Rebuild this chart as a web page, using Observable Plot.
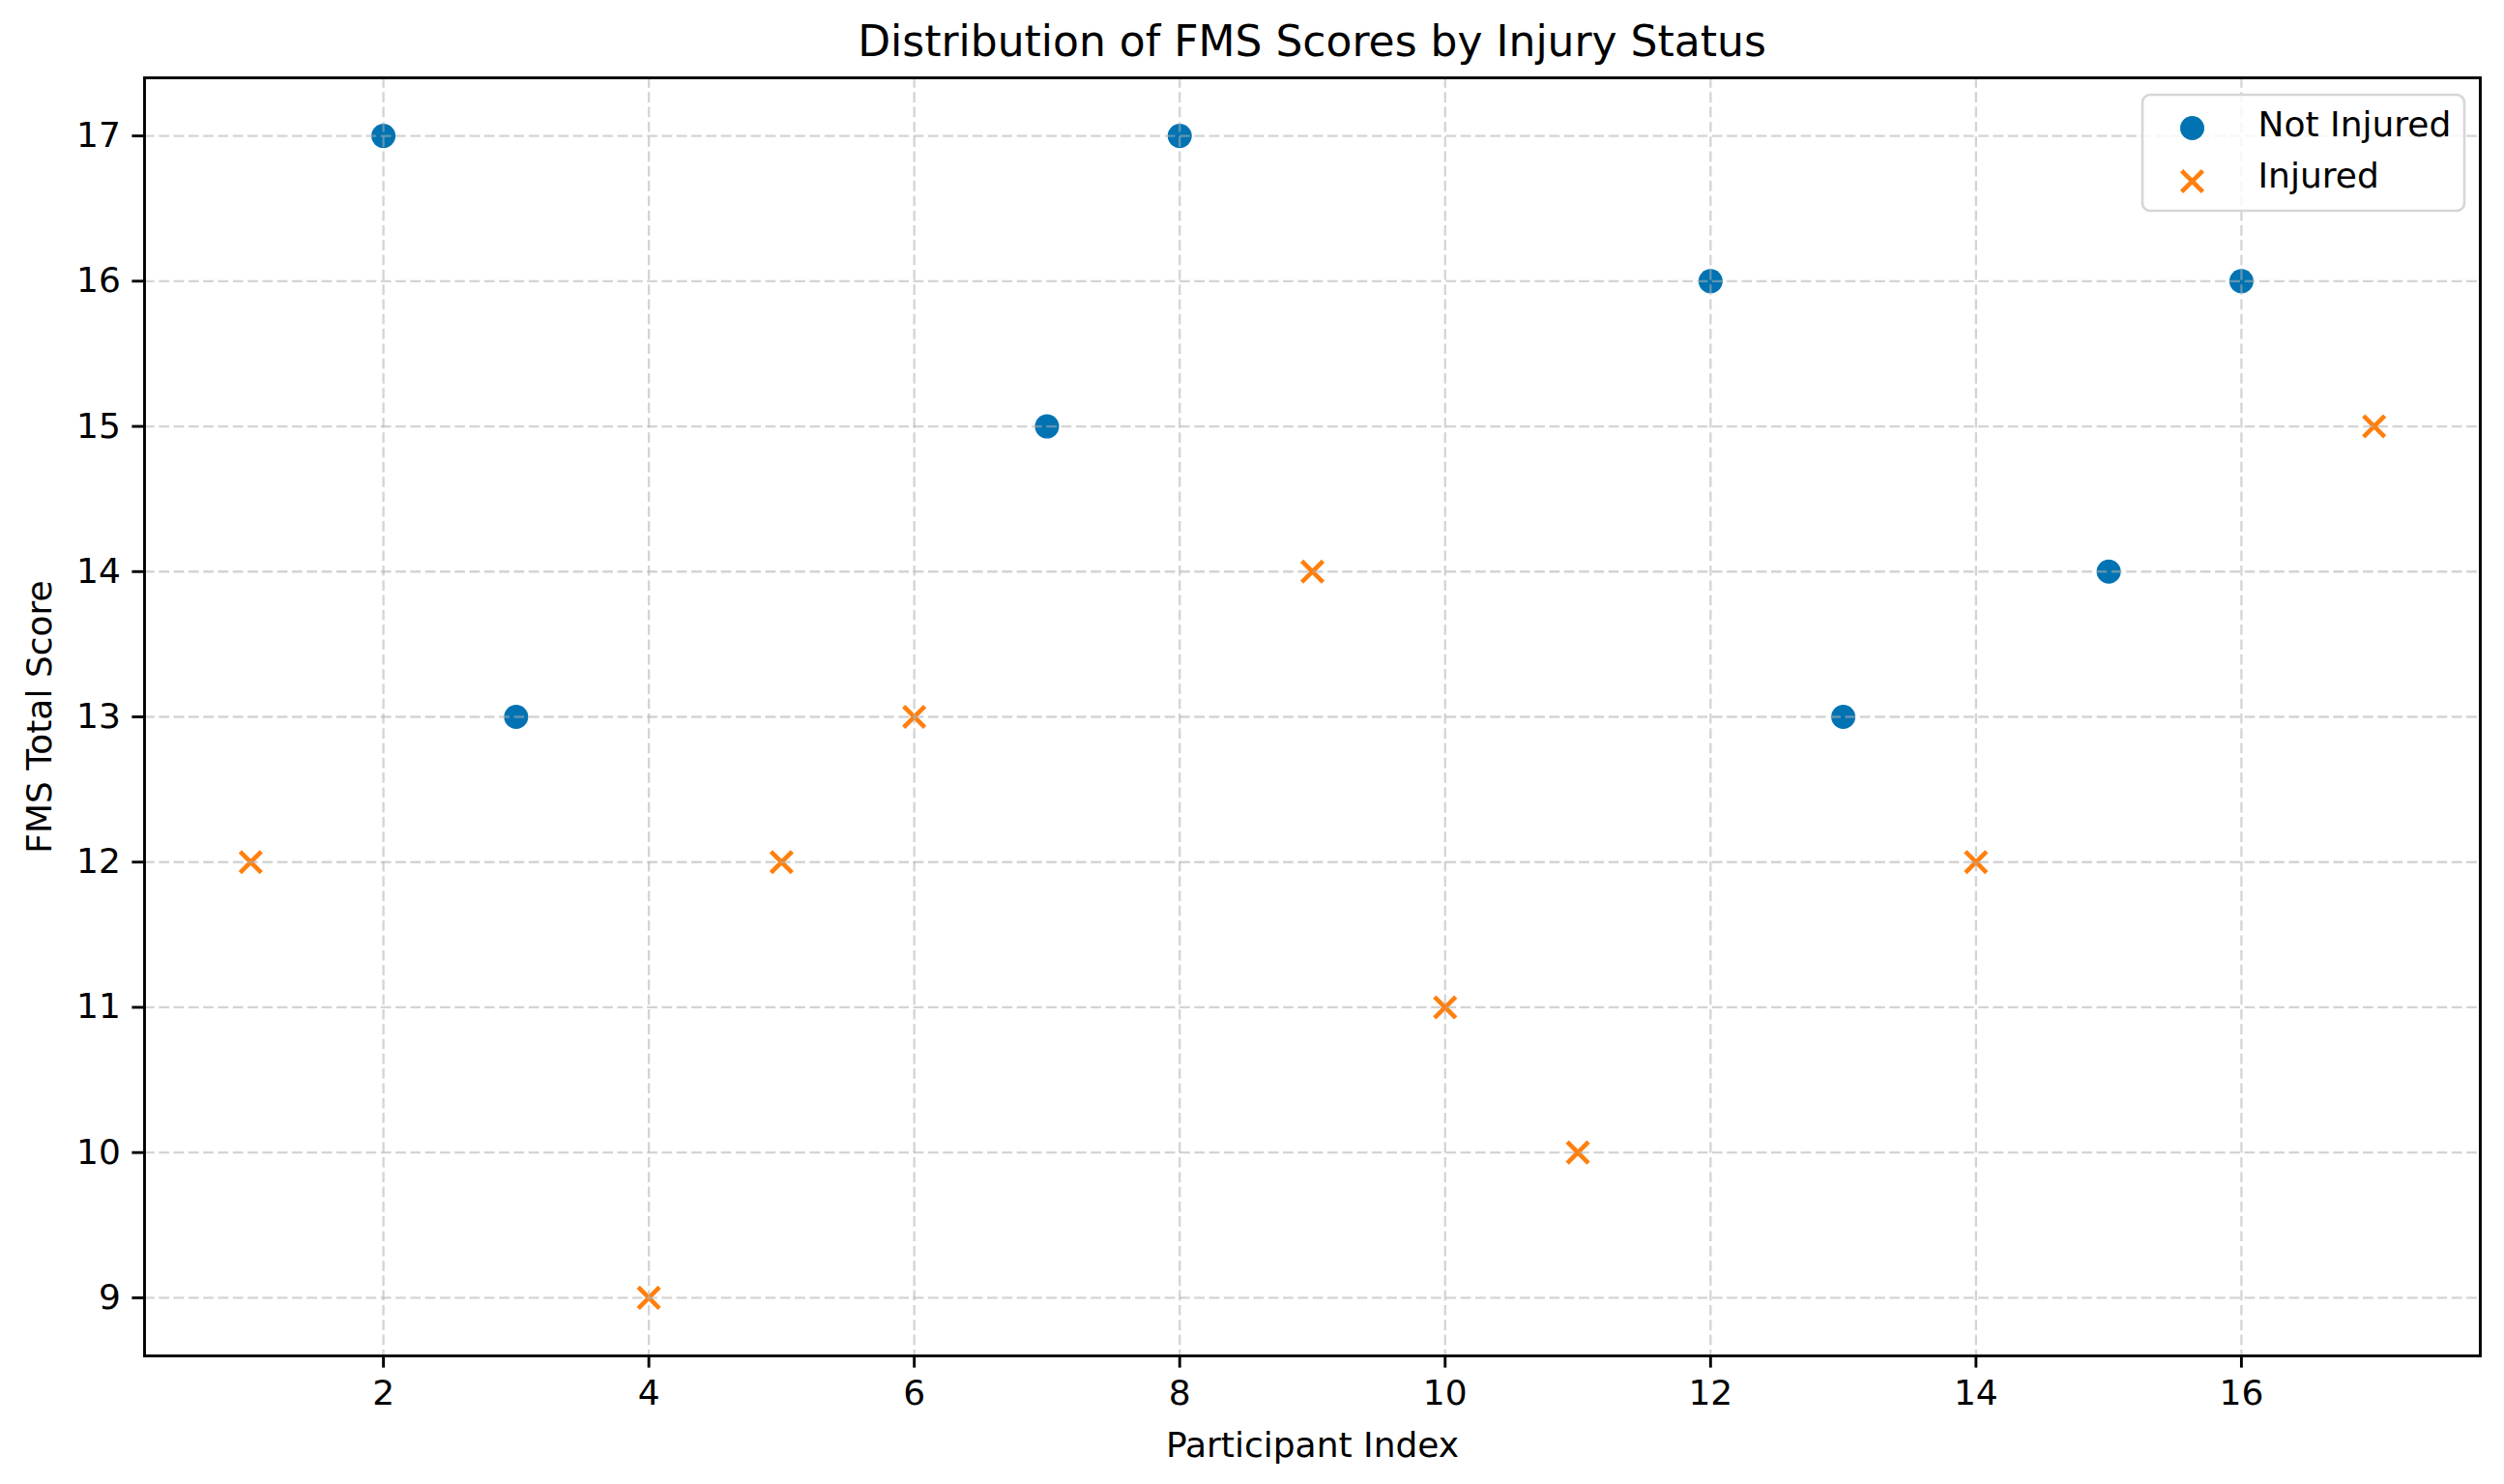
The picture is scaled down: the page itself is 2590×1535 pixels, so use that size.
<!DOCTYPE html>
<html>
<head>
<meta charset="utf-8">
<script src="https://cdn.jsdelivr.net/npm/d3@7"></script>
<script src="https://cdn.jsdelivr.net/npm/@observablehq/plot@0.6"></script>
<style>
  html, body { margin: 0; padding: 0; background: #fff; }
  #wrap { width: 2590px; height: 1535px; font-family: "DejaVu Sans", sans-serif; }
  #title { height: 76px; box-sizing: border-box; padding-left: 149px; padding-right: 25px; padding-top: 8px;
           display: flex; align-items: center; justify-content: center; font-size: 44px; color: #000; }
  svg { display: block; }
</style>
</head>
<body>
<div id="wrap">
  <div id="title">Distribution of FMS Scores by Injury Status</div>
  <div id="chart"></div>
</div>
<script>
// Data
const notInjuredIndex = [2, 3, 7, 8, 12, 13, 15, 16];
const notInjuredScore = [17, 13, 15, 17, 16, 13, 14, 16];
const injuredIndex = [1, 4, 5, 6, 9, 10, 11, 14, 17];
const injuredScore = [12, 9, 12, 13, 14, 11, 10, 12, 15];
const xTicks = [2, 4, 6, 8, 10, 12, 14, 16];
const yTicks = [9, 10, 11, 12, 13, 14, 15, 16, 17];
const legendLabels = ["Not Injured", "Injured"];

const blue = "#0173B2";
const orange = "#FF7F0E";

const notInjured = notInjuredIndex.map((x, i) => ({x, y: notInjuredScore[i]}));
const injured = injuredIndex.map((x, i) => ({x, y: injuredScore[i]}));

const W = 2590, H = 1459;
const mL = 149, mR = 25, mT = 4, mB = 133;

// legend box render mark (positioned relative to frame corner)
const legendBox = (index, scales, values, dim) => {
  const g = d3.create("svg:g");
  const right = dim.width - dim.marginRight;
  const top = dim.marginTop;
  g.append("rect")
    .attr("x", right - 349).attr("y", top + 18)
    .attr("width", 333).attr("height", 120)
    .attr("rx", 8).attr("ry", 8)
    .attr("fill", "white").attr("fill-opacity", 0.8)
    .attr("stroke", "#d6d6d6").attr("stroke-width", 2.6);
  return g.node();
};

const fmt = d3.format("d");

const chart = Plot.plot({
  width: W,
  height: H,
  marginLeft: mL,
  marginRight: mR,
  marginTop: mT,
  marginBottom: mB,
  style: {fontFamily: "DejaVu Sans, sans-serif", fontSize: "36px", color: "#000", background: "white"},
  x: {domain: [0.2, 17.8], ticks: xTicks, tickFormat: fmt},
  y: {domain: [8.6, 17.4], ticks: yTicks, tickFormat: fmt},
  marks: [
    Plot.dot(notInjured, {x: "x", y: "y", r: 12.5, fill: blue, stroke: blue, strokeWidth: 0}),
    Plot.dot(injured, {x: "x", y: "y", symbol: "times", r: 10, stroke: orange, strokeWidth: 4.6}),
    Plot.gridX(xTicks, {stroke: "#b0b0b0", strokeOpacity: 0.55, strokeWidth: 2.3, strokeDasharray: "10.7,4.6"}),
    Plot.gridY(yTicks, {stroke: "#b0b0b0", strokeOpacity: 0.55, strokeWidth: 2.3, strokeDasharray: "10.7,4.6"}),
    Plot.axisX(xTicks, {tickSize: 12.6, tickPadding: 12, strokeWidth: 2.9, fontSize: 36, tickFormat: fmt, label: null}),
    Plot.axisY(yTicks, {tickSize: 12.6, tickPadding: 12, strokeWidth: 2.9, fontSize: 36, tickFormat: fmt, label: null}),
    Plot.frame({stroke: "#000", strokeWidth: 2.9}),
    Plot.text(["Participant Index"], {text: d => d, frameAnchor: "bottom", dy: 93, lineAnchor: "middle", textAnchor: "middle", fontSize: 36, fill: "#000"}),
    Plot.text(["FMS Total Score"], {text: d => d, frameAnchor: "left", dx: -108, rotate: -90, lineAnchor: "middle", textAnchor: "middle", fontSize: 36, fill: "#000"}),
    legendBox,
    Plot.dot([legendLabels[0]], {frameAnchor: "top-right", dx: -298, dy: 52, r: 12.5, fill: blue}),
    Plot.dot([legendLabels[1]], {frameAnchor: "top-right", dx: -298, dy: 107, symbol: "times", r: 10, stroke: orange, strokeWidth: 4.6}),
    Plot.text([legendLabels[0]], {text: d => d, frameAnchor: "top-right", dx: -230, dy: 49, textAnchor: "start", lineAnchor: "middle", fontSize: 36, fill: "#000"}),
    Plot.text([legendLabels[1]], {text: d => d, frameAnchor: "top-right", dx: -230, dy: 102, textAnchor: "start", lineAnchor: "middle", fontSize: 36, fill: "#000"})
  ]
});
document.getElementById("chart").appendChild(chart);
</script>
</body>
</html>
